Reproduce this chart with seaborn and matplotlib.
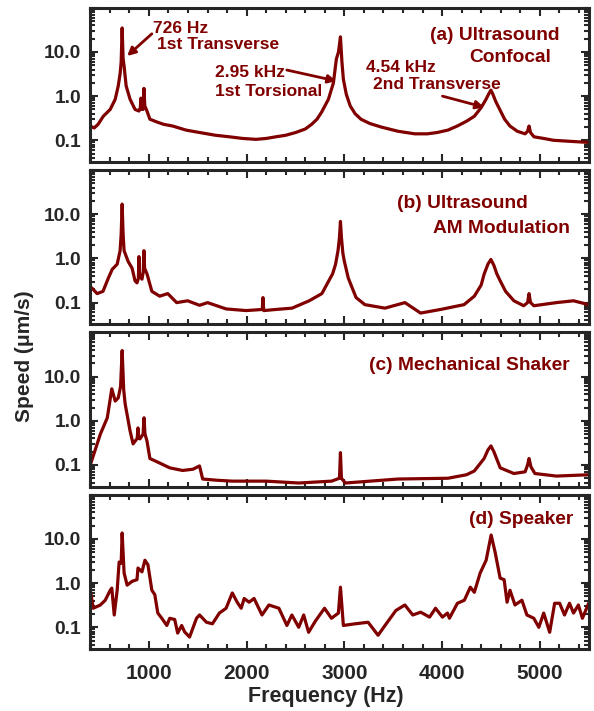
import numpy as np
import matplotlib
matplotlib.use("Agg")
import matplotlib.pyplot as plt
import matplotlib.ticker as mticker
import seaborn as sns

# Frequency (Hz) / speed (um/s)
freq_a = [400, 440, 480, 533, 604, 655, 686, 705, 716, 726, 736, 746, 767, 807, 858, 898,
          912, 919, 926, 940, 949, 958, 980, 1010, 1081, 1150, 1244, 1380, 1518, 1680, 1822,
          1960, 2096, 2200, 2300, 2400, 2502, 2600, 2665, 2720, 2766, 2837, 2888, 2918, 2940,
          2960, 2975, 2990, 3020, 3060, 3110, 3170, 3260, 3375, 3550, 3720, 3850, 3950, 4060,
          4155, 4250, 4330, 4400, 4450, 4480, 4500, 4520, 4550, 4590, 4640, 4695, 4770, 4850,
          4875, 4890, 4905, 4940, 5040, 5140, 5300, 5480, 5500]
speed_a = [0.21, 0.19, 0.23, 0.35, 0.5, 0.85, 1.7, 3.2, 5.9, 35, 7.0, 4.8, 1.7, 0.85, 0.5, 0.46,
           0.55, 0.9, 0.5, 0.5, 1.5, 0.6, 0.46, 0.3, 0.26, 0.23, 0.21, 0.17, 0.15, 0.13, 0.12,
           0.11, 0.105, 0.11, 0.12, 0.13, 0.15, 0.18, 0.23, 0.3, 0.43, 0.85, 2.0, 6.9, 10,
           22, 6.0, 2.4, 1.1, 0.6, 0.4, 0.3, 0.24, 0.2, 0.16, 0.14, 0.14, 0.15, 0.17,
           0.21, 0.27, 0.35, 0.55, 0.85, 1.15, 1.37, 1.1, 0.75, 0.5, 0.3, 0.21, 0.16, 0.14,
           0.16, 0.21, 0.15, 0.12, 0.11, 0.1, 0.095, 0.09, 0.088]

freq_b = [400, 420, 470, 530, 585, 625, 675, 705, 716, 726, 736, 746, 787, 828, 858, 878, 892,
          898, 905, 929, 942, 949, 956, 980, 1030, 1110, 1193, 1284, 1396, 1518, 1600, 1790,
          1995, 2160, 2167, 2175, 2300, 2465, 2640, 2770, 2840, 2880, 2910, 2935, 2950, 2960,
          2970, 2985, 3000, 3040, 3120, 3210, 3415, 3620, 3780, 3985, 4225, 4330, 4400, 4430,
          4470, 4500, 4530, 4560, 4595, 4650, 4735, 4835, 4875, 4890, 4905, 4940, 5170, 5345,
          5500]
speed_b = [0.23, 0.21, 0.16, 0.18, 0.36, 0.57, 0.74, 1.5, 3.5, 17, 3.5, 1.5, 0.86, 0.6, 0.31, 0.28,
           0.35, 1.1, 0.4, 0.34, 0.5, 1.5, 0.6, 0.45, 0.18, 0.14, 0.16, 0.1, 0.11, 0.087, 0.1,
           0.072, 0.066, 0.07, 0.13, 0.066, 0.07, 0.075, 0.11, 0.16, 0.31, 0.45, 0.74, 1.5, 3.0,
           6.9, 3.0, 1.3, 0.86, 0.36, 0.13, 0.09, 0.075, 0.1, 0.058, 0.07, 0.09, 0.14, 0.25,
           0.44, 0.75, 0.95, 0.7, 0.45, 0.31, 0.18, 0.11, 0.085, 0.1, 0.16, 0.1, 0.085, 0.1,
           0.11, 0.09]

freq_c = [400, 503, 574, 620, 655, 686, 710, 726, 742, 757, 807, 838, 880, 888, 896, 909, 940,
          950, 960, 980, 1010, 1112, 1213, 1345, 1450, 1518, 1550, 1700, 1855, 2200, 2533, 2870,
          2950, 2960, 2970, 3010, 3550, 4060, 4250, 4330, 4430, 4470, 4500, 4530, 4595, 4735,
          4850, 4875, 4890, 4910, 4950, 5170, 5500]
speed_c = [0.1, 0.5, 1.17, 5.3, 2.8, 3.3, 6.0, 39, 5.0, 2.4, 0.59, 0.3, 0.4, 0.69, 0.4, 0.39, 0.5,
           1.17, 0.5, 0.35, 0.14, 0.11, 0.086, 0.075, 0.08, 0.095, 0.048, 0.045, 0.043, 0.043, 0.039,
           0.043, 0.05, 0.19, 0.05, 0.039, 0.048, 0.05, 0.06, 0.073, 0.14, 0.22, 0.27, 0.2, 0.086,
           0.064, 0.07, 0.1, 0.14, 0.09, 0.064, 0.056, 0.06]

freq_d = [400, 430, 503, 553, 604, 620, 645, 675, 695, 716, 726, 746, 777, 828, 878, 888, 929,
          959, 990, 1030, 1060, 1091, 1132, 1183, 1213, 1264, 1294, 1335, 1365, 1416, 1487,
          1518, 1589, 1650, 1721, 1790, 1853, 1903, 1944, 1975, 2025, 2076, 2157, 2228, 2330,
          2412, 2463, 2533, 2584, 2634, 2705, 2797, 2868, 2939, 2960, 2990, 3111, 3243, 3345,
          3416, 3527, 3619, 3700, 3781, 3872, 3933, 4004, 4055, 4075, 4157, 4228, 4289, 4330,
          4390, 4451, 4502, 4543, 4594, 4635, 4665, 4695, 4746, 4817, 4868, 4939, 4990, 5040,
          5101, 5152, 5203, 5253, 5304, 5345, 5395, 5436, 5500]
speed_d = [0.69, 0.27, 0.32, 0.41, 0.69, 0.77, 0.19, 0.69, 3.0, 2.8, 13.7, 1.7, 0.9, 1.1, 1.2, 2.2, 1.8,
           3.3, 2.6, 0.69, 0.55, 0.21, 0.16, 0.11, 0.16, 0.15, 0.074, 0.11, 0.079, 0.06, 0.16,
           0.19, 0.13, 0.12, 0.21, 0.27, 0.6, 0.37, 0.27, 0.45, 0.37, 0.45, 0.19, 0.32, 0.27,
           0.11, 0.19, 0.1, 0.19, 0.077, 0.14, 0.27, 0.16, 0.21, 0.81, 0.11, 0.12, 0.13, 0.066,
           0.11, 0.24, 0.32, 0.19, 0.22, 0.17, 0.27, 0.17, 0.21, 0.16, 0.35, 0.41, 0.81, 0.62,
           1.7, 3.3, 12.3, 5.0, 1.3, 1.2, 0.37, 0.69, 0.32, 0.41, 0.19, 0.16, 0.1, 0.21,
           0.077, 0.35, 0.35, 0.19, 0.35, 0.21, 0.32, 0.16, 0.35]

panels = [(freq_a, speed_a), (freq_b, speed_b), (freq_c, speed_c), (freq_d, speed_d)]
ytick_vals = [0.1, 1.0, 10.0, 100.0]
ytick_labels = ["0.1", "1.0", "10.0", ""]
xtick_vals = [1000, 2000, 3000, 4000, 5000]

red = "#800000"

sns.set_style("ticks")
plt.rcParams["font.family"] = ["Liberation Sans", "DejaVu Sans"]
plt.rcParams["font.weight"] = "bold"

fig, axes = plt.subplots(4, 1, sharex=True, figsize=(5.94, 7.11), dpi=100)
fig.subplots_adjust(left=0.152, right=0.991, top=0.989, bottom=0.087, hspace=0.052)

for ax, (f, s) in zip(axes, panels):
    sns.lineplot(x=f, y=s, ax=ax, color=red, linewidth=2.3, sort=False)
    ax.set_yscale("log")
    ax.set_ylim(0.032, 100)
    ax.set_xlim(400, 5500)
    ax.set_yticks(ytick_vals)
    ax.set_yticklabels(ytick_labels)
    ax.yaxis.set_minor_locator(mticker.LogLocator(base=10, subs=np.arange(2, 10)))
    ax.yaxis.set_minor_formatter(mticker.NullFormatter())
    ax.set_xticks(xtick_vals)
    ax.xaxis.set_minor_locator(mticker.MultipleLocator(200))
    ax.tick_params(which="both", direction="in", top=True, right=True, width=1.5)
    ax.tick_params(which="major", length=6)
    ax.tick_params(which="minor", length=3.5)
    ax.tick_params(axis="y", which="major", labelsize=13.8, pad=6.5)
    ax.tick_params(axis="x", which="major", labelsize=15, pad=11)
    for sp in ax.spines.values():
        sp.set_linewidth(2.2)
    for lab in ax.get_yticklabels() + ax.get_xticklabels():
        lab.set_fontweight("bold")

txt = dict(color=red, fontweight="bold")
arrow = dict(arrowstyle="-|>", color=red, lw=2, mutation_scale=12, shrinkA=0, shrinkB=0)
ax = axes[0]
ax.text(1040, 27, "726 Hz", fontsize=12.5, **txt)
ax.text(1080, 11.7, "1st Transverse", fontsize=12.5, **txt)
ax.annotate("", xy=(777, 8.1), xytext=(1030, 25.8), arrowprops=arrow)
ax.text(1680, 2.7, "2.95 kHz", fontsize=12.5, **txt)
ax.text(1680, 1.0, "1st Torsional", fontsize=12.5, **txt)
ax.annotate("", xy=(2918, 2.2), xytext=(2411, 3.9), arrowprops=arrow)
ax.text(3223, 3.5, "4.54 kHz", fontsize=12.5, **txt)
ax.text(3290, 1.45, "2nd Transverse", fontsize=12.5, **txt)
ax.annotate("", xy=(4431, 0.56), xytext=(4004, 1.0), arrowprops=arrow)
ax.text(4542, 18.7, "(a) Ultrasound", fontsize=13.8, ha="center", **txt)
ax.text(4695, 5.9, "Confocal", fontsize=13.8, ha="center", **txt)

axes[1].text(4207, 13.6, "(b) Ultrasound", fontsize=13.8, ha="center", **txt)
axes[1].text(5304, 3.7, "AM Modulation", fontsize=13.8, ha="right", **txt)
axes[2].text(5304, 14.4, "(c) Mechanical Shaker", fontsize=13.8, ha="right", **txt)
axes[3].text(5344, 21.9, "(d) Speaker", fontsize=13.8, ha="right", **txt)

fig.text(0.549, 0.021, "Frequency (Hz)", ha="center", va="center", fontsize=15.5, fontweight="bold")
fig.text(0.042, 0.499, "Speed (\u03bcm/s)", ha="center", va="center", rotation=90,
         fontsize=15, fontweight="bold")

fig.savefig("out.png", dpi=100)
